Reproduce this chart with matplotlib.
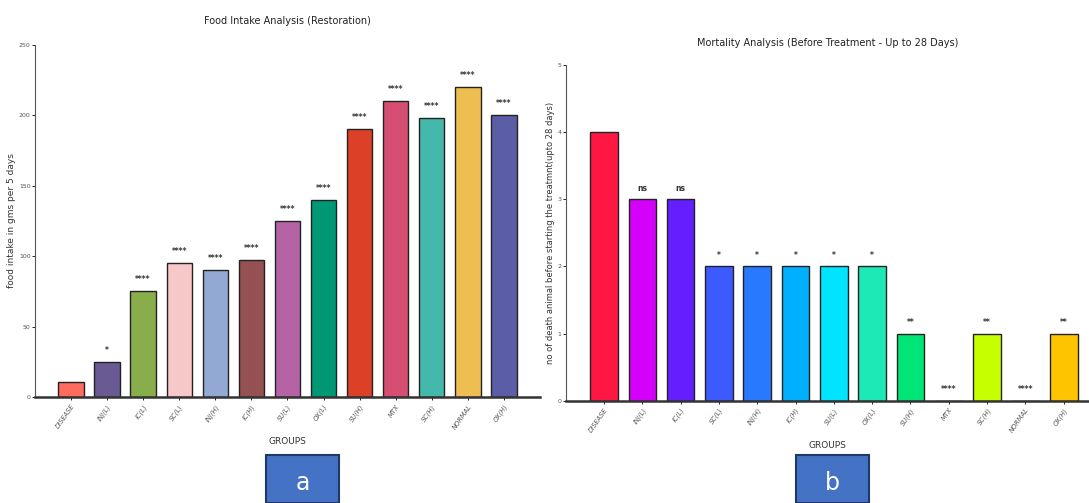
import matplotlib
matplotlib.use("Agg")
import matplotlib.pyplot as plt
from matplotlib.patches import Rectangle

groups = ['DISEASE', 'INJ(L)', 'IC(L)', 'SC(L)', 'INJ(H)', 'IC(H)', 'SU(L)',
          'OX(L)', 'SU(H)', 'MTX', 'SC(H)', 'NORMAL', 'OX(H)']

food = [11, 25, 75, 95, 90, 97, 125, 140, 190, 210, 198, 220, 200]
food_sig = ['', '*', '****', '****', '****', '****', '****', '****', '****',
            '****', '****', '****', '****']
food_colors = ['#FF6B5E', '#6A5A94', '#88AE4B', '#F7C8C8', '#93A8D2', '#955151',
               '#B563A5', '#009874', '#DC4127', '#D64F73', '#45B8AC', '#EEBE52',
               '#5B5EA6']

deaths = [4, 3, 3, 2, 2, 2, 2, 2, 1, 0, 1, 0, 1]
death_sig = ['', 'ns', 'ns', '*', '*', '*', '*', '*', '**', '****', '**',
             '****', '**']
death_colors = ['#FF1744', '#D500F9', '#651FFF', '#3D5AFE', '#2979FF', '#00B0FF',
                '#00E5FF', '#1DE9B6', '#00E676', '#76FF03', '#C6FF00', '#FFEA00',
                '#FFC400']

plt.rcParams['font.family'] = ['DejaVu Sans']

fig = plt.figure(figsize=(10.89, 5.03), dpi=100)


def style(ax, ymax, yticks, title, ylabel, title_pad, ylabel_size):
    for s in ['top', 'right']:
        ax.spines[s].set_visible(False)
    ax.spines['bottom'].set_linewidth(1.8)
    ax.spines['bottom'].set_color('#333333')
    ax.spines['left'].set_linewidth(0.8)
    ax.spines['left'].set_color('#555555')
    ax.set_ylim(0, ymax)
    ax.set_yticks(yticks)
    ax.tick_params(axis='y', labelsize=4.5, length=2, width=0.6, pad=1,
                   labelcolor='#555555')
    ax.set_xticks(range(len(groups)))
    ax.set_xticklabels(groups, rotation=55, ha='right', rotation_mode='anchor',
                       fontsize=4.8, style='italic', color='#555555')
    ax.tick_params(axis='x', length=2.5, width=0.6, pad=2)
    ax.set_title(title, fontsize=7, pad=title_pad, color='#222222')
    ax.set_ylabel(ylabel, fontsize=ylabel_size, labelpad=2, color='#333333')
    ax.set_xlabel('GROUPS', fontsize=6.5, labelpad=5, color='#333333')


ax1 = fig.add_axes([0.032, 0.2107, 0.464, 0.70])
ax1.bar(range(len(groups)), food, width=0.7, color=food_colors,
        edgecolor='#222222', linewidth=1.0)
ax1.set_xlim(-1, 13)
style(ax1, 250, [0, 50, 100, 150, 200, 250], 'Food Intake Analysis (Restoration)',
      'food intake in gms per 5 days', 15, 6.5)
for i, (v, s) in enumerate(zip(food, food_sig)):
    if s:
        ax1.text(i, v + 5, s, ha='center', va='bottom', fontsize=5.5,
                 fontweight='bold', color='#333333')

ax2 = fig.add_axes([0.5195, 0.2034, 0.4805, 0.6674])
ax2.bar(range(len(groups)), deaths, width=0.72, color=death_colors,
        edgecolor='#222222', linewidth=1.0)
ax2.set_xlim(-1, 12.66)
style(ax2, 5, [0, 1, 2, 3, 4, 5],
      'Mortality Analysis (Before Treatment - Up to 28 Days)',
      'no of death animal before starting the treatmnt(upto 28 days)', 14, 6)
for i, (v, s) in enumerate(zip(deaths, death_sig)):
    if s:
        ax2.text(i, v + 0.1, s, ha='center', va='bottom', fontsize=5.5,
                 fontweight='bold', color='#333333')

# panel letters
for x0, letter in [(266, 'a'), (796, 'b')]:
    fig.patches.append(Rectangle((x0 / 1089, 0), 73 / 1089, 48 / 503,
                                 transform=fig.transFigure, facecolor='#4472C4',
                                 edgecolor='#1F3864', linewidth=1.5))
    fig.text((x0 + 36.5) / 1089, 20 / 503, letter, ha='center', va='center',
             fontsize=17, color='white')

fig.savefig('out.png', dpi=100)
